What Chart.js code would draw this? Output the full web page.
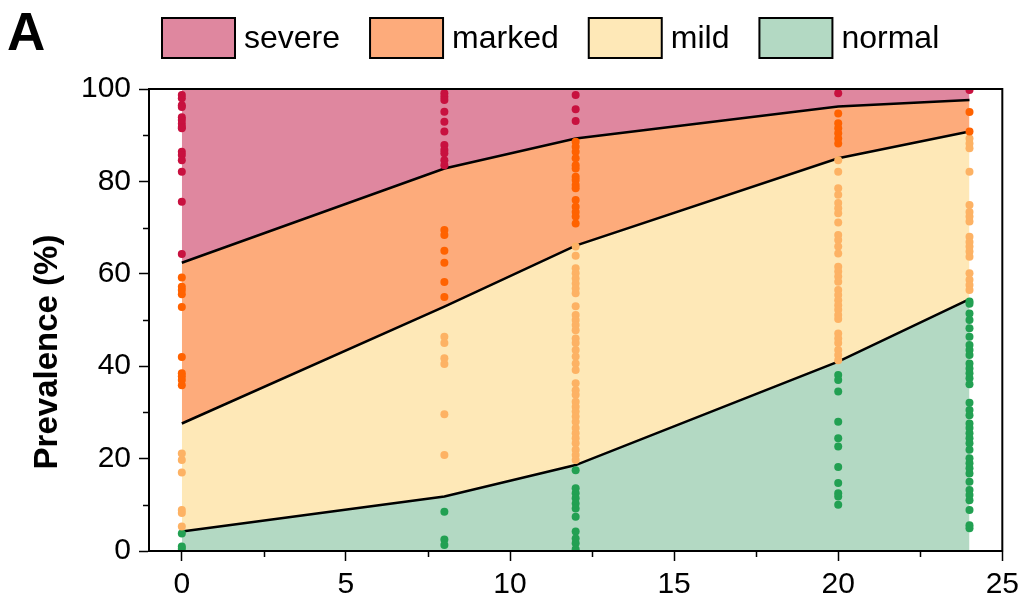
<!DOCTYPE html>
<html>
<head>
<meta charset="utf-8">
<script src="https://cdn.jsdelivr.net/npm/chart.js@4.4.1/dist/chart.umd.min.js"></script>
<style>
  html, body { margin: 0; padding: 0; background: #fff; }
</style>
</head>
<body>
<canvas id="chart" width="1025" height="604"></canvas>
<script>
'use strict';

// weeks on the x axis
var weeks = [0, 8, 12, 20, 24];

// prevalence (%) of each category per week, stacked bottom to top
var normalPct = [4.2, 11.8, 18.6, 41.0, 54.5];
var mildPct = [23.4, 41.1, 47.5, 44.0, 36.3];
var markedPct = [34.8, 29.9, 23.2, 11.2, 6.8];
var severePct = [37.6, 17.2, 10.7, 3.8, 2.4];

// individual points, one inner list per week (0, 8, 12, 20, 24)
var severeDots = [
  [98.7, 98.0, 96.5, 96.1, 93.9, 93.3, 92.5, 91.8, 91.5, 86.4, 85.7, 84.6, 82.1, 75.6, 64.3],
  [99.1, 98.3, 97.6, 95.1, 92.9, 90.8, 87.9, 86.8, 86.1, 84.6, 83.5],
  [98.7, 95.6, 93.1],
  [99.1],
  [99.8]
];
var markedDots = [
  [59.2, 57.2, 56.5, 55.6, 52.8, 42.0, 38.5, 37.8, 37.0, 35.9],
  [69.5, 68.4, 65.0, 62.4, 58.2, 55.0],
  [88.6, 87.5, 86.4, 85.0, 83.5, 82.8, 81.0, 80.3, 79.2, 78.5, 76.0, 74.5, 73.4, 72.4, 70.9],
  [94.7, 92.6, 91.5, 90.4, 89.3, 88.2],
  [95.0, 90.8]
];
var mildDots = [
  [21.1, 19.7, 17.0, 8.9, 8.2, 5.3],
  [46.4, 45.0, 41.7, 40.5, 29.6, 20.8],
  [65.9, 63.9, 61.2, 60.1, 59.0, 57.9, 56.8, 55.8, 53.0, 51.1, 50.0, 48.9, 47.8, 46.0, 45.0, 43.5, 42.1,
   40.6, 39.2, 36.3, 34.8, 33.8, 32.3, 31.2, 30.2, 29.1, 28.0, 26.6, 25.5, 24.4, 23.3, 21.9, 20.8, 19.7],
  [84.6, 82.1, 78.5, 77.1, 75.3, 74.2, 73.1, 71.1, 68.4, 67.3, 65.9, 64.4, 61.5, 60.5, 59.4, 58.3, 56.5,
   55.4, 54.3, 53.2, 52.2, 51.1, 50.2, 47.1, 46.0, 45.0, 43.5, 42.4, 41.3],
  [89.3, 88.2, 87.2, 82.1, 74.9, 73.4, 72.4, 71.3, 68.0, 66.9, 65.9, 64.8, 63.7, 60.1, 58.7, 57.6, 56.5]
];
var normalDots = [
  [3.8, 1.0, 0.5],
  [8.5, 2.5, 1.3],
  [17.5, 13.6, 12.5, 11.4, 10.3, 9.2, 7.4, 4.2, 2.7, 1.7, 0.4],
  [38.1, 37.0, 34.5, 28.0, 24.4, 22.6, 18.2, 14.7, 12.5, 11.8, 10.0],
  [54.0, 53.5, 51.4, 50.0, 48.2, 46.4, 44.6, 43.5, 42.4, 40.6, 39.5, 38.5, 37.4, 36.1, 32.1, 30.5, 29.4,
   27.6, 26.6, 25.5, 24.4, 23.3, 21.9, 20.1, 19.0, 17.9, 16.8, 15.0, 13.2, 12.1, 11.0, 8.9, 5.6, 4.9]
];

var xTicks = [0, 5, 10, 15, 20, 25];
var yTicks = [0, 20, 40, 60, 80, 100];
var xMinorTicks = [2.5, 7.5, 12.5, 17.5, 22.5];
var yMinorTicks = [10, 30, 50, 70, 90];

var legendNames = ['severe', 'marked', 'mild', 'normal'];
var areaColors = { severe: '#df879f', marked: '#fdab7b', mild: '#fee8b7', normal: '#b3d9c3' };
var dotColors = { severe: '#c8113f', marked: '#ff6200', mild: '#fdb264', normal: '#22a052' };

var FONT = '"Liberation Sans", Arial, Helvetica, sans-serif';

// running tops of the stacked bands
function cumulative(lists) {
  var out = [], run = weeks.map(function () { return 0; });
  lists.forEach(function (l) {
    run = run.map(function (v, i) { return v + l[i]; });
    out.push(run.slice());
  });
  return out;
}
var tops = cumulative([normalPct, mildPct, markedPct, severePct]);

function band(name, i) {
  return {
    type: 'line',
    label: name,
    data: weeks.map(function (w, j) { return { x: w, y: tops[i][j] }; }),
    fill: i === 0 ? 'origin' : '-1',
    backgroundColor: areaColors[name],
    borderColor: '#000',
    borderWidth: name === 'severe' ? 0 : 2.5,
    pointRadius: 0,
    tension: 0,
    order: 1
  };
}

function dots(name, lists) {
  var pts = [];
  lists.forEach(function (l, j) {
    l.forEach(function (v) { pts.push({ x: weeks[j], y: v }); });
  });
  return {
    type: 'scatter',
    label: name + ' points',
    data: pts,
    backgroundColor: dotColors[name],
    borderWidth: 0,
    pointRadius: 4,
    order: 0
  };
}

var decorations = {
  id: 'decorations',
  afterDraw: function (chart) {
    var ctx = chart.ctx, a = chart.chartArea;
    var xs = chart.scales.x, ys = chart.scales.y;
    ctx.save();
    ctx.strokeStyle = '#000';
    ctx.lineWidth = 2;
    ctx.strokeRect(a.left, a.top, a.right - a.left, a.bottom - a.top);

    // minor ticks
    ctx.lineWidth = 1.5;
    ctx.beginPath();
    xMinorTicks.forEach(function (v) {
      var px = Math.round(xs.getPixelForValue(v)) + 0.5;
      ctx.moveTo(px, a.bottom); ctx.lineTo(px, a.bottom + 6);
    });
    yMinorTicks.forEach(function (v) {
      var py = Math.round(ys.getPixelForValue(v)) + 0.5;
      ctx.moveTo(a.left, py); ctx.lineTo(a.left - 6, py);
    });
    ctx.stroke();

    // y title
    ctx.fillStyle = '#000';
    ctx.font = 'bold 33px ' + FONT;
    ctx.textAlign = 'center';
    ctx.textBaseline = 'middle';
    ctx.translate(48, 352);
    ctx.rotate(-Math.PI / 2);
    ctx.fillText('Prevalence (%)', 0, 0);
    ctx.restore();

    // panel letter
    ctx.save();
    ctx.fillStyle = '#000';
    ctx.font = 'bold 53px ' + FONT;
    ctx.textBaseline = 'alphabetic';
    ctx.fillText('A', 7, 50);

    // legend
    ctx.font = '32px ' + FONT;
    ctx.textBaseline = 'middle';
    var x = 162;
    legendNames.forEach(function (name) {
      ctx.fillStyle = areaColors[name];
      ctx.fillRect(x, 18, 73, 40);
      ctx.lineWidth = 2;
      ctx.strokeStyle = '#000';
      ctx.strokeRect(x, 18, 73, 40);
      ctx.fillStyle = '#000';
      ctx.fillText(name, x + 82, 39);
      x += 82 + ctx.measureText(name).width + 30;
    });
    ctx.restore();
  }
};

var ctx = document.getElementById('chart').getContext('2d');
new Chart(ctx, {
  type: 'scatter',
  data: {
    datasets: [
      band('normal', 0),
      band('mild', 1),
      band('marked', 2),
      band('severe', 3),
      dots('severe', severeDots),
      dots('marked', markedDots),
      dots('mild', mildDots),
      dots('normal', normalDots)
    ]
  },
  options: {
    responsive: false,
    animation: false,
    events: [],
    layout: { padding: { top: 89, right: 16, bottom: 0, left: 0 } },
    plugins: { legend: { display: false }, tooltip: { enabled: false } },
    scales: {
      x: {
        type: 'linear',
        min: -1,
        max: 25,
        afterBuildTicks: function (s) { s.ticks = xTicks.map(function (v) { return { value: v }; }); },
        afterFit: function (s) { s.height = 53; },
        grid: { drawOnChartArea: false, tickLength: 10, tickWidth: 1.5, tickColor: '#000' },
        border: { color: '#000', width: 2 },
        ticks: { color: '#000', padding: 6, maxRotation: 0, font: { family: FONT, size: 30 } }
      },
      y: {
        min: 0,
        max: 100,
        afterBuildTicks: function (s) { s.ticks = yTicks.map(function (v) { return { value: v }; }); },
        afterFit: function (s) { s.width = 149; },
        grid: { drawOnChartArea: false, tickLength: 10, tickWidth: 1.5, tickColor: '#000' },
        border: { color: '#000', width: 2 },
        ticks: { color: '#000', padding: 8, font: { family: FONT, size: 30 } }
      }
    }
  },
  plugins: [decorations]
});
</script>
</body>
</html>
